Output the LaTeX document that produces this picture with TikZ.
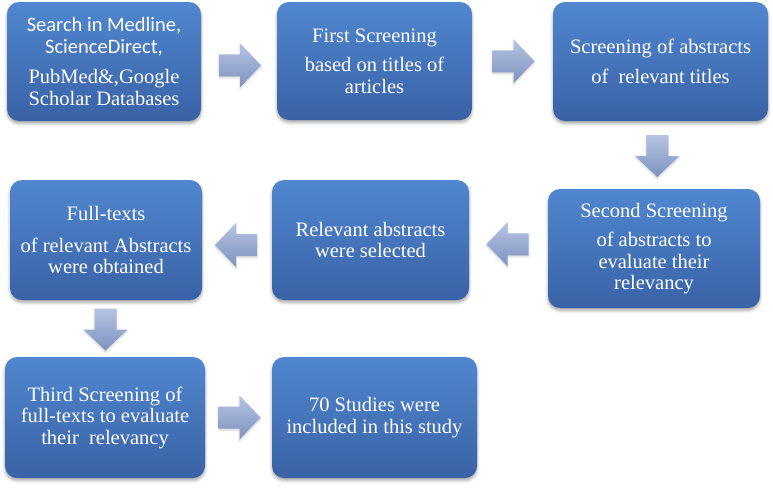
\documentclass[tikz,border=0pt]{standalone}
\usepackage{fontspec}
\setmainfont{Liberation Serif}
\newfontfamily\calib{Carlito}
\usetikzlibrary{calc,shadows.blur}
\definecolor{boxtop}{RGB}{80,135,207}
\definecolor{boxbot}{RGB}{58,98,166}
\definecolor{arrtop}{RGB}{182,196,226}
\definecolor{arrbot}{RGB}{126,146,192}
\tikzset{
  box/.style={rounded corners=12pt, top color=boxtop, bottom color=boxbot,
    text=white, align=center, font=\fontsize{20.5}{21.5}\selectfont, inner sep=0pt,
    blur shadow={shadow xshift=0pt, shadow yshift=-2.5pt, shadow blur radius=3pt, shadow opacity=35}},
  barrow/.pic={\shade[top color=arrtop, bottom color=arrbot,
      blur shadow={shadow xshift=0pt, shadow yshift=-1.5pt, shadow blur radius=2pt, shadow opacity=20}]
    (-20,-11) -- (1,-11) -- (1,-22) -- (22,0) -- (1,22) -- (1,11) -- (-20,11) -- cycle;}
}
\begin{document}
\begin{tikzpicture}[x=1pt,y=-1pt]
\useasboundingbox (0,0) rectangle (773,488);
\node[box, minimum width=194pt, minimum height=119pt] (b1) at (104,61.5)
  {{\calib Search in Medline,}\\{\calib ScienceDirect,}\\[9pt]PubMed\&,Google\\Scholar Databases};
\node[box, minimum width=195pt, minimum height=118pt] (b2) at (374.5,61)
  {First Screening\\[8pt]based on titles of\\articles};
\node[box, minimum width=215pt, minimum height=119pt] (b3) at (660.5,61.5)
  {Screening of abstracts\\[8pt]of\ \ relevant titles};
\node[box, minimum width=212pt, minimum height=119pt] (b4) at (654,248.5)
  {Second Screening\\[8pt]of abstracts to\\evaluate their\\relevancy};
\node[box, minimum width=197pt, minimum height=120pt] (b5) at (370.5,240)
  {Relevant abstracts\\were selected};
\node[box, minimum width=192pt, minimum height=120pt] (b6) at (106,240)
  {Full-texts\\[10pt]of relevant Abstracts\\were obtained};
\node[box, minimum width=200pt, minimum height=121pt] (b7) at (105,417.5)
  {Third Screening of\\full-texts to evaluate\\their\ \ relevancy};
\node[box, minimum width=205pt, minimum height=121pt] (b8) at (374.5,417.5)
  {70 Studies were\\included in this study};
\pic at ($(b1.east)!0.5!(b2.west)+(0,4)$) {barrow};
\pic at ($(b2.east)!0.5!(b3.west)$) {barrow};
\pic[rotate=-90] at ($(b3.south)!0.5!(b4.north)$) {barrow};
\pic[rotate=180] at ($(b4.west)!0.5!(b5.east)$) {barrow};
\pic[rotate=180] at ($(b5.west)!0.5!(b6.east)+(0,5)$) {barrow};
\pic[rotate=-90] at ($(b6.south)!0.5!(b7.north)$) {barrow};
\pic at ($(b7.east)!0.5!(b8.west)$) {barrow};
\end{tikzpicture}
\end{document}
